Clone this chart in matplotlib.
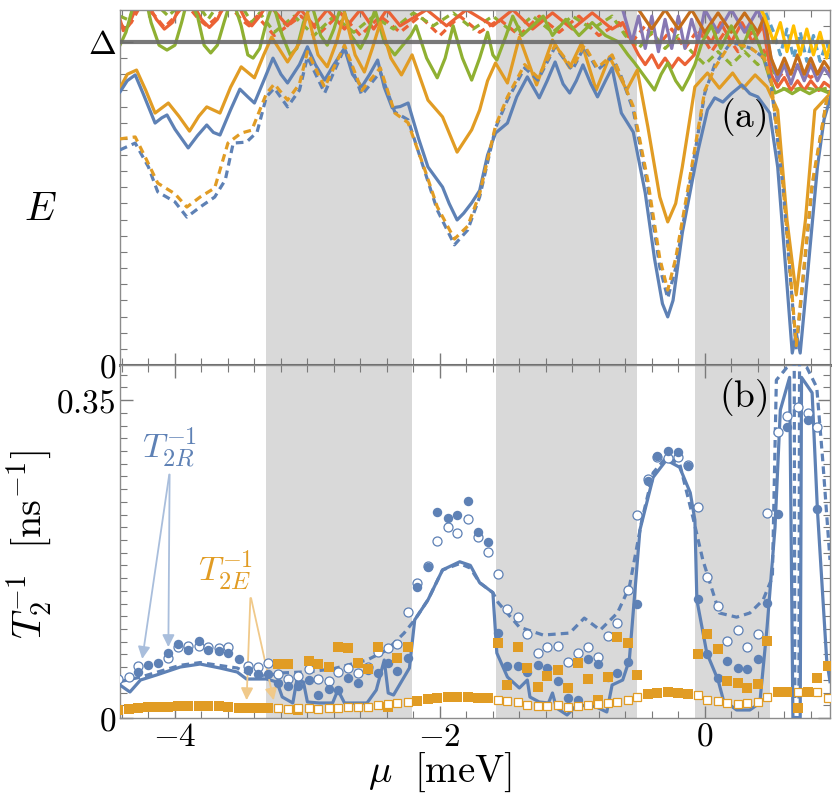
import numpy as np
import matplotlib
matplotlib.use('Agg')
import matplotlib.pyplot as plt
from matplotlib.ticker import MultipleLocator, FixedLocator, FixedFormatter

plt.rcParams['mathtext.fontset'] = 'cm'
plt.rcParams['font.family'] = 'DejaVu Serif'

BLUE = '#5e81b5'
ORANGE = '#e19c24'
GREEN = '#8fb032'
RED = '#eb6235'
PURPLE = '#8778b3'
BROWN = '#c56e1a'
LBLUE = '#5d9ec7'
YELLOW = '#ffbf00'

# shaded mu-intervals
shade_regions = [(-3.31, -2.21), (-1.58, -0.51), (-0.075, 0.49)]

# ===== panel (a): energies in units of Delta =====
mu_blue_sol = [-4.415, -4.36, -4.30, -4.24, -4.15, -4.10, -4.06, -4.00, -3.90, -3.83, -3.76, -3.71,
               -3.66, -3.58, -3.51, -3.45, -3.40, -3.33, -3.26, -3.20, -3.15, -3.06, -3.00, -2.94,
               -2.87, -2.80, -2.72, -2.66, -2.59, -2.53, -2.47, -2.42, -2.36, -2.30, -2.24, -2.16,
               -2.09, -1.98, -1.93, -1.87, -1.82, -1.76, -1.70, -1.64, -1.58, -1.49, -1.42, -1.34,
               -1.25, -1.19, -1.13, -1.07, -1.02, -0.97, -0.92, -0.86, -0.81, -0.75, -0.70, -0.63,
               -0.54, -0.45, -0.38, -0.32, -0.28, -0.24, -0.17, -0.05, 0.02, 0.075, 0.136, 0.20,
               0.28, 0.34, 0.40, 0.49, 0.55, 0.62, 0.66, 0.69, 0.72, 0.78, 0.85, 0.90, 0.95]
E_blue_sol = [0.845, 0.88, 0.898, 0.84, 0.749, 0.765, 0.774, 0.73, 0.672, 0.71, 0.743, 0.72,
              0.712, 0.79, 0.854, 0.83, 0.811, 0.88, 0.950, 0.90, 0.873, 0.93, 0.985, 0.93,
              0.882, 0.93, 0.981, 0.90, 0.861, 0.90, 0.944, 0.86, 0.796, 0.80, 0.811, 0.70,
              0.613, 0.551, 0.50, 0.449, 0.47, 0.502, 0.54, 0.65, 0.718, 0.749, 0.83, 0.892,
              0.827, 0.88, 0.938, 0.87, 0.842, 0.88, 0.929, 0.87, 0.830, 0.88, 0.920, 0.780,
              0.721, 0.533, 0.33, 0.19, 0.149, 0.20, 0.409, 0.666, 0.79, 0.827, 0.814, 0.84,
              0.867, 0.84, 0.830, 0.780, 0.613, 0.25, 0.037, 0.099, 0.037, 0.30, 0.613, 0.76, 0.83]

mu_orange_sol = [-4.415, -4.36, -4.29, -4.22, -4.15, -4.05, -3.97, -3.89, -3.82, -3.76, -3.66, -3.58,
                 -3.50, -3.40, -3.33, -3.27, -3.15, -3.06, -3.00, -2.92, -2.85, -2.78, -2.72, -2.64,
                 -2.57, -2.51, -2.45, -2.37, -2.29, -2.21, -2.09, -1.98, -1.87, -1.76, -1.70, -1.64,
                 -1.58, -1.49, -1.40, -1.27, -1.15, -1.02, -0.93, -0.82, -0.72, -0.59, -0.51, -0.43,
                 -0.34, -0.28, -0.22, -0.17, -0.075, 0.02, 0.11, 0.21, 0.29, 0.38, 0.47, 0.55,
                 0.62, 0.69, 0.76, 0.83, 0.95]
E_orange_sol = [0.857, 0.90, 0.913, 0.85, 0.780, 0.811, 0.77, 0.724, 0.77, 0.799, 0.780, 0.86,
                0.923, 0.889, 0.96, 1.015, 0.938, 0.997, 1.09, 0.96, 0.923, 1.00, 1.09, 0.96,
                0.907, 0.98, 1.06, 0.95, 0.898, 0.96, 0.820, 0.768, 0.659, 0.728, 0.789, 0.88,
                0.935, 0.873, 1.015, 0.867, 1.006, 0.920, 0.997, 0.851, 0.954, 0.851, 0.913, 0.737,
                0.52, 0.443, 0.50, 0.613, 0.861, 0.904, 0.857, 0.904, 0.857, 0.898, 0.861, 0.789,
                0.45, 0.217, 0.45, 0.789, 0.842]

mu_blue_dash = [-4.415, -4.30, -4.20, -4.13, -4.00, -3.91, -3.81, -3.70, -3.62, -3.56, -3.46, -3.38,
                -3.31, -3.25, -3.15, -3.06, -3.00, -2.87, -2.72, -2.59, -2.45, -2.34, -2.24, -2.11,
                -2.02, -1.89, -1.79, -1.70, -1.58, -1.49, -1.36, -1.26, -1.13, -1.00, -0.91, -0.81,
                -0.70, -0.63, -0.54, -0.43, -0.34, -0.28, -0.22, -0.13, 0.00, 0.075, 0.20, 0.35,
                0.45, 0.50, 0.59, 0.69, 0.81, 0.92, 0.95]
E_blue_dash = [0.666, 0.687, 0.613, 0.536, 0.505, 0.458, 0.489, 0.520, 0.573, 0.687, 0.690, 0.721,
               0.830, 0.857, 0.799, 0.851, 0.954, 0.842, 0.981, 0.836, 0.907, 0.783, 0.759, 0.594,
               0.480, 0.372, 0.418, 0.520, 0.734, 0.820, 0.920, 0.882, 0.985, 0.913, 0.985, 0.913,
               0.954, 0.892, 0.789, 0.551, 0.303, 0.207, 0.30, 0.520, 0.842, 0.93, 1.0, 0.98,
               0.95, 0.87, 0.551, 0.046, 0.551, 0.82, 0.84]

mu_orange_dash = [-4.415, -4.30, -4.22, -4.13, -4.00, -3.91, -3.81, -3.70, -3.60, -3.50, -3.42, -3.31,
                  -3.25, -3.15, -3.06, -3.00, -2.87, -2.72, -2.59, -2.45, -2.34, -2.24, -2.11, -2.02,
                  -1.89, -1.79, -1.70, -1.58, -1.49, -1.36, -1.26, -1.13, -1.00, -0.91, -0.81, -0.70,
                  -0.63, -0.54, -0.43, -0.34, -0.28, -0.22, -0.13, 0.00, 0.075, 0.20, 0.35, 0.45,
                  0.50, 0.59, 0.69, 0.81, 0.92, 0.95]
E_orange_dash = [0.70, 0.706, 0.64, 0.563, 0.53, 0.489, 0.52, 0.548, 0.687, 0.718, 0.727, 0.84,
                 0.87, 0.82, 0.87, 0.97, 0.86, 0.99, 0.85, 0.92, 0.78, 0.75, 0.60, 0.49,
                 0.39, 0.43, 0.53, 0.74, 0.83, 0.93, 0.89, 0.99, 0.92, 0.99, 0.92, 0.96,
                 0.89, 0.80, 0.57, 0.33, 0.232, 0.33, 0.54, 0.85, 0.92, 1.0, 0.98, 0.95,
                 0.88, 0.56, 0.06, 0.56, 0.82, 0.85]

mu_green_sol = [-4.415, -4.37, -4.31, -4.23, -4.18, -4.12, -4.06, -4.00, -3.95, -3.90, -3.83, -3.78,
                -3.73, -3.68, -3.63, -3.57, -3.50, -3.45, -3.41, -3.36, -3.31, -3.26, -3.19, -3.13,
                -3.08, -3.03, -2.97, -2.90, -2.85, -2.80, -2.74, -2.67, -2.60, -2.55, -2.49, -2.42,
                -2.34, -2.28, -2.22, -2.18, -2.10, -2.02, -1.96, -1.90, -1.83, -1.76, -1.70, -1.64,
                -1.60, -1.57, -1.50, -1.45, -1.38, -1.30, -1.22, -1.15, -1.05, -0.95, -0.85, -0.75,
                -0.65, -0.58, -0.53, -0.45, -0.38, -0.33, -0.28, -0.22, -0.17, -0.12, -0.075, -0.02,
                0.05, 0.12, 0.20, 0.28, 0.35, 0.42, 0.48, 0.53, 0.60, 0.66, 0.72, 0.79, 0.86, 0.95]
E_green_sol = [0.99, 1.03, 1.12, 1.15, 1.06, 0.99, 0.975, 0.99, 1.06, 1.14, 1.08, 0.99,
               0.966, 0.99, 1.06, 1.14, 1.05, 0.96, 0.95, 0.98, 1.06, 1.12, 1.02, 0.96,
               0.98, 1.06, 1.12, 1.02, 0.99, 1.04, 1.12, 1.02, 0.98, 1.02, 1.10, 1.00,
               0.96, 0.99, 1.02, 1.05, 0.95, 0.889, 0.95, 1.05, 0.95, 0.882, 0.95, 1.03,
               0.96, 0.944, 1.02, 1.08, 1.02, 1.05, 1.08, 1.02, 1.07, 1.02, 1.06, 1.02,
               1.00, 0.96, 0.935, 0.89, 0.851, 0.90, 0.935, 0.88, 0.851, 0.89, 0.93, 1.00,
               1.05, 0.98, 1.05, 0.98, 1.05, 0.98, 0.90, 0.842, 0.855, 0.84, 0.855, 0.84, 0.855, 0.84]

mu_green_dash = [-4.415, -4.36, -4.30, -4.20, -4.10, -4.05, -4.00, -3.90, -3.80, -3.75, -3.70, -3.58,
                 -3.48, -3.42, -3.36, -3.25, -3.10, -2.95, -2.80, -2.65, -2.50, -2.35, -2.20, -2.05,
                 -1.90, -1.75, -1.60, -1.45, -1.30, -1.15, -1.00, -0.85, -0.70, -0.60, -0.50, -0.40,
                 -0.30, -0.20, -0.10, 0.00, 0.10, 0.20, 0.30, 0.40, 0.48, 0.55, 0.65, 0.75, 0.85, 0.95]
E_green_dash = [1.08, 1.07, 1.10, 1.16, 1.10, 1.08, 1.10, 1.16, 1.10, 1.07, 1.10, 1.16,
                1.10, 1.06, 1.09, 1.03, 1.08, 1.02, 1.08, 1.03, 1.08, 1.04, 1.09, 1.05,
                1.09, 1.04, 1.08, 1.03, 1.08, 1.03, 1.08, 1.04, 1.08, 1.02, 0.98, 1.03,
                0.98, 1.02, 0.97, 0.93, 0.97, 0.93, 0.97, 0.93, 0.97, 0.86, 0.85, 0.86, 0.85, 0.86]

mu_red_sol = [-4.415, -4.39, -4.35, -4.30, -4.22, -4.14, -4.08, -4.02, -3.96, -3.88, -3.80, -3.74,
              -3.68, -3.62, -3.54, -3.47, -3.42, -3.36, -3.30, -3.15, -3.05, -2.95, -2.85, -2.72,
              -2.60, -2.50, -2.40, -2.30, -2.10, -1.95, -1.80, -1.60, -1.45, -1.30, -1.15, -1.00,
              -0.85, -0.70, -0.62, -0.55, -0.50, -0.45, -0.40, -0.35, -0.30, -0.25, -0.20, -0.15,
              -0.08, -0.03, 0.05, 0.12, 0.20, 0.28, 0.36, 0.44, 0.50, 0.55, 0.60, 0.65,
              0.70, 0.75, 0.80, 0.86, 0.90, 0.95]
E_red_sol = [1.07, 1.035, 1.05, 1.10, 1.13, 1.07, 1.04, 1.06, 1.11, 1.13, 1.07, 1.045,
             1.07, 1.12, 1.13, 1.07, 1.05, 1.08, 1.12, 1.05, 1.10, 1.05, 1.10, 1.04,
             1.10, 1.04, 1.10, 1.05, 1.10, 1.05, 1.10, 1.05, 1.10, 1.04, 1.09, 1.04,
             1.09, 1.04, 1.06, 1.00, 0.96, 0.93, 0.96, 0.92, 0.95, 0.92, 0.95, 0.93,
             0.96, 1.04, 1.00, 1.06, 1.00, 1.06, 1.00, 1.05, 0.90, 0.86, 0.89, 0.85,
             0.88, 0.85, 0.88, 0.85, 0.875, 0.86]

mu_red_dash = [-4.415, -4.38, -4.33, -4.25, -4.15, -4.08, -4.02, -3.92, -3.82, -3.76, -3.70, -3.60,
               -3.50, -3.44, -3.38, -3.25, -3.05, -2.90, -2.75, -2.60, -2.45, -2.30, -2.15, -2.00,
               -1.85, -1.70, -1.55, -1.40, -1.25, -1.10, -0.95, -0.80, -0.65, -0.55, -0.45, -0.35,
               -0.25, -0.15, -0.05, 0.05, 0.15, 0.25, 0.35, 0.45, 0.52, 0.60, 0.70, 0.80, 0.90, 0.95]
E_red_dash = [1.06, 1.04, 1.06, 1.12, 1.08, 1.045, 1.07, 1.12, 1.07, 1.05, 1.07, 1.12,
              1.07, 1.05, 1.08, 1.02, 1.08, 1.03, 1.09, 1.02, 1.08, 1.03, 1.08, 1.02,
              1.08, 1.03, 1.07, 1.02, 1.08, 1.03, 1.08, 1.02, 1.06, 1.00, 1.05, 0.99,
              1.04, 0.98, 1.04, 0.97, 1.03, 0.97, 1.03, 0.97, 0.92, 0.89, 0.92, 0.89, 0.92, 0.90]

mu_purple = [-0.62, -0.55, -0.50, -0.45, -0.40, -0.35, -0.30, -0.25, -0.20, -0.15, -0.10, -0.05,
             0.00, 0.10, 0.20, 0.30, 0.40, 0.45, 0.50, 0.55, 0.60, 0.65, 0.70, 0.75, 0.80, 0.85, 0.90, 0.95]
E_purple = [1.10, 1.00, 1.08, 0.98, 1.08, 0.97, 1.07, 0.98, 1.08, 0.98, 1.07, 1.00,
            1.10, 1.03, 1.10, 1.03, 1.10, 1.05, 0.95, 0.88, 0.93, 0.87, 0.93, 0.88, 0.93, 0.88, 0.92, 0.89]

mu_brown = [-0.50, -0.40, -0.30, -0.20, -0.10, 0.00, 0.10, 0.20, 0.30, 0.40, 0.45, 0.50,
            0.55, 0.60, 0.65, 0.70, 0.75, 0.80, 0.85, 0.90, 0.95]
E_brown = [1.10, 1.04, 1.10, 1.04, 1.10, 1.03, 1.09, 1.03, 1.09, 1.03, 1.08, 0.95,
           0.90, 0.95, 0.90, 0.96, 0.90, 0.95, 0.90, 0.94, 0.91]

mu_yellow = [0.40, 0.45, 0.52, 0.57, 0.62, 0.67, 0.72, 0.77, 0.82, 0.87, 0.92, 0.95]
E_yellow = [1.12, 1.08, 1.00, 1.06, 0.97, 1.05, 0.96, 1.04, 0.96, 1.03, 0.95, 1.00]

mu_lblue = [0.40, 0.45, 0.52, 0.57, 0.62, 0.67, 0.72, 0.77, 0.82, 0.87, 0.92, 0.95]
E_lblue = [1.12, 1.10, 1.03, 0.96, 1.04, 0.95, 1.03, 0.94, 1.02, 0.94, 1.00, 0.95]

# ===== panel (b): dephasing rates [1/ns] =====
mu_line_sol = [-4.415, -4.34, -4.26, -4.14, -3.96, -3.81, -3.66, -3.53, -3.46, -3.31, -3.23, -3.19,
               -3.11, -3.08, -3.03, -3.00, -2.91, -2.81, -2.77, -2.72, -2.55, -2.48, -2.42, -2.39,
               -2.35, -2.23, -2.19, -2.09, -1.98, -1.85, -1.77, -1.70, -1.60, -1.57, -1.49, -1.40,
               -1.34, -1.32, -1.25, -1.18, -1.15, -1.12, -1.04, -0.98, -0.89, -0.82, -0.74, -0.70,
               -0.62, -0.57, -0.49, -0.39, -0.29, -0.19, -0.11, -0.075, -0.06, 0.015, 0.10, 0.14,
               0.24, 0.34, 0.415, 0.47, 0.53, 0.57, 0.64, 0.665, 0.72, 0.73, 0.81, 0.85, 0.92, 0.945]
T_line_sol = [0.0363, 0.0286, 0.0418, 0.0473, 0.0561, 0.0594, 0.055, 0.0506, 0.0429, 0.0429, 0.0396, 0.0231,
              0.0165, 0.0418, 0.0396, 0.0176, 0.0165, 0.0165, 0.0308, 0.0165, 0.0165, 0.0308, 0.0638, 0.0275,
              0.0253, 0.055, 0.108, 0.130, 0.163, 0.172, 0.168, 0.149, 0.138, 0.0715, 0.0451, 0.033,
              0.0418, 0.0231, 0.0176, 0.0165, 0.0275, 0.011, 0.0033, 0.0121, 0.0143, 0.0121, 0.0066, 0.0363,
              0.0418, 0.0638, 0.207, 0.265, 0.284, 0.276, 0.248, 0.218, 0.130, 0.0715, 0.0418, 0.0198,
              0.0088, 0.0088, 0.0165, 0.100, 0.210, 0.339, 0.375, 0.0, 0.0, 0.375, 0.358, 0.229, 0.0638, 0.04]

mu_line_dash = [-4.415, -4.26, -3.96, -3.81, -3.53, -3.43, -3.31, -3.21, -2.98, -2.81, -2.55, -2.40,
                -2.27, -2.19, -2.09, -1.98, -1.85, -1.77, -1.70, -1.60, -1.56, -1.40, -1.22, -1.02,
                -0.91, -0.79, -0.66, -0.57, -0.475, -0.39, -0.29, -0.19, -0.09, -0.015, 0.11, 0.24,
                0.34, 0.44, 0.51, 0.54, 0.62, 0.675, 0.68, 0.71, 0.715, 0.77, 0.845, 0.89, 0.945]
T_line_dash = [0.040, 0.045, 0.058, 0.061, 0.055, 0.048, 0.046, 0.0495, 0.051, 0.054, 0.0638, 0.0748,
               0.0935, 0.108, 0.130, 0.163, 0.170, 0.165, 0.149, 0.138, 0.127, 0.100, 0.0913, 0.0935,
               0.110, 0.0968, 0.1156, 0.144, 0.218, 0.270, 0.287, 0.280, 0.221, 0.174, 0.1156, 0.111,
               0.1156, 0.130, 0.155, 0.372, 0.386, 0.392, 0.0, 0.0, 0.392, 0.386, 0.364, 0.284, 0.174]

# sampling grid of the scattered rates (index -> mu)
mu_grid = [-4.43, -4.35, -4.28, -4.20, -4.13, -4.05, -3.98, -3.90, -3.82, -3.75, -3.67, -3.60,
           -3.52, -3.45, -3.37, -3.30, -3.22, -3.15, -3.07, -2.99, -2.92, -2.84, -2.77, -2.69,
           -2.62, -2.54, -2.47, -2.39, -2.32, -2.24, -2.17, -2.09, -2.02, -1.94, -1.87, -1.79,
           -1.71, -1.64, -1.56, -1.49, -1.41, -1.34, -1.26, -1.19, -1.11, -1.03, -0.96, -0.88,
           -0.81, -0.73, -0.66, -0.58, -0.51, -0.43, -0.36, -0.28, -0.20, -0.13, -0.05, 0.02,
           0.10, 0.17, 0.25, 0.32, 0.40, 0.47, 0.55, 0.62, 0.70, 0.78, 0.85, 0.93]

idx_R_full = [2, 3, 4, 5, 6, 7, 8, 9, 10, 11, 12, 13, 14, 15, 16, 17, 18, 19, 20, 21, 22, 23, 24, 25,
              26, 27, 28, 29, 30, 31, 32, 33, 34, 35, 36, 37, 38, 39, 40, 41, 42, 43, 44, 45, 46, 47,
              48, 49, 50, 51, 52, 53, 54, 55, 56, 57, 58, 59, 60, 61, 62, 63, 64, 65, 66, 67, 69, 70]
T_R_full = [0.0506, 0.0583, 0.0605, 0.0715, 0.0814, 0.0748, 0.0847, 0.0748, 0.0737, 0.0715, 0.0649, 0.0528,
            0.0484, 0.0484, 0.0385, 0.0352, 0.0352, 0.0418, 0.0253, 0.0319, 0.0308, 0.044, 0.0385, 0.0528,
            0.0495, 0.0605, 0.0517, 0.066, 0.144, 0.166, 0.227, 0.220, 0.223, 0.239, 0.205, 0.194,
            0.0935, 0.0572, 0.0572, 0.0506, 0.0583, 0.055, 0.0407, 0.022, 0.0198, 0.0649, 0.0594, 0.045,
            0.0495, 0.0616, 0.1255, 0.261, 0.288, 0.294, 0.293, 0.277, 0.131, 0.0704, 0.044, 0.0627,
            0.055, 0.0539, 0.0649, 0.1266, 0.2245, 0.320, 0.328, 0.230]

idx_R_open = [0, 1, 2, 5, 6, 7, 8, 9, 10, 11, 13, 14, 15, 16, 17, 18, 19, 20, 21, 22, 23, 24, 25, 26,
              27, 28, 29, 30, 31, 32, 33, 34, 35, 36, 37, 38, 39, 40, 41, 42, 43, 44, 45, 46, 47, 48,
              49, 50, 51, 52, 53, 54, 55, 56, 57, 58, 59, 60, 61, 62, 63, 64, 65, 66, 67, 68, 69, 70]
T_R_open = [0.0429, 0.0451, 0.0572, 0.066, 0.078, 0.079, 0.079, 0.078, 0.077, 0.078, 0.0572, 0.0561,
            0.0605, 0.0484, 0.0429, 0.0462, 0.0539, 0.0429, 0.0407, 0.0506, 0.055, 0.0495, 0.0561, 0.0726,
            0.077, 0.0814, 0.1167, 0.1486, 0.167, 0.195, 0.210, 0.204, 0.219, 0.199, 0.183, 0.158,
            0.120, 0.111, 0.0924, 0.0715, 0.078, 0.079, 0.0616, 0.0715, 0.078, 0.067, 0.090, 0.1046,
            0.141, 0.223, 0.263, 0.287, 0.286, 0.287, 0.278, 0.232, 0.155, 0.123, 0.0847, 0.0968,
            0.078, 0.0924, 0.2256, 0.315, 0.332, 0.342, 0.336, 0.320]

T_E_full = [0.0088, 0.0099, 0.011, 0.012, 0.0121, 0.0121, 0.013, 0.0135, 0.0135, 0.0135, 0.013, 0.0121,
            0.0114, 0.011, 0.011, 0.011, 0.0594, 0.0594, 0.0088, 0.0627, 0.0594, 0.0561, 0.078, 0.077,
            0.0605, 0.0539, 0.078, 0.0121, 0.066, 0.078, 0.0187, 0.0209, 0.022, 0.0231, 0.0231, 0.0231,
            0.022, 0.022, 0.0825, 0.0363, 0.078, 0.055, 0.0341, 0.0462, 0.0528, 0.033, 0.0605, 0.0429,
            0.0198, 0.0451, 0.0891, 0.0825, 0.0473, 0.0264, 0.0275, 0.0286, 0.0275, 0.0264, 0.0704, 0.0924,
            0.0759, 0.0407, 0.0385, 0.033, 0.0374, 0.0847, 0.0286, 0.0286, 0.011, 0.0286, 0.044, 0.0572]

idx_E_open = [16, 17, 18, 19, 20, 21, 22, 23, 24, 25, 26, 27, 28, 29, 38, 39, 40, 41, 42, 43, 44, 45,
              46, 47, 48, 49, 50, 51, 52, 58, 59, 60, 61, 62, 63, 64, 65, 68, 70, 71]
T_E_open = [0.011, 0.0099, 0.0105, 0.011, 0.0104, 0.011, 0.0114, 0.0121, 0.0121, 0.0121, 0.0143, 0.015,
            0.0165, 0.0176, 0.0198, 0.0187, 0.0176, 0.0143, 0.0132, 0.0132, 0.0143, 0.0121, 0.013, 0.0143,
            0.0154, 0.0165, 0.0176, 0.0198, 0.0231, 0.025, 0.0198, 0.0187, 0.0165, 0.0154, 0.0165, 0.0176,
            0.0231, 0.0286, 0.0286, 0.022]

fig = plt.figure(figsize=(8.32, 7.93), dpi=100)
ax1 = fig.add_axes([0.1442, 0.5397, 0.8534, 0.4477])
ax2 = fig.add_axes([0.1442, 0.0946, 0.8534, 0.4451])

xlim = (-4.415, 0.945)
lw = 2.3
dash = [2.4, 1.6]

for ax in (ax1, ax2):
    for a, b in shade_regions:
        ax.axvspan(a, b, color='#d9d9d9', lw=0, zorder=0)
    ax.set_xlim(*xlim)
    for s in ax.spines.values():
        s.set_color('#8c8c8c')
        s.set_linewidth(1.0)
    ax.xaxis.set_major_locator(FixedLocator([-4, -2, 0]))
    ax.xaxis.set_minor_locator(MultipleLocator(0.2))
    ax.tick_params(which='both', direction='in', top=True, right=True, colors='#7a7a7a',
                   labelcolor='black', labelsize=24)
    ax.tick_params(which='major', length=9, width=1.0)
    ax.tick_params(which='minor', length=5, width=0.8)

# ---- panel (a)
for m, e, c in [(mu_red_dash, E_red_dash, RED), (mu_green_dash, E_green_dash, GREEN),
                (mu_lblue, E_lblue, LBLUE)]:
    ax1.plot(m, e, color=c, lw=lw, dashes=dash, zorder=2)
for m, e, c in [(mu_red_sol, E_red_sol, RED), (mu_purple, E_purple, PURPLE),
                (mu_brown, E_brown, BROWN), (mu_yellow, E_yellow, YELLOW),
                (mu_green_sol, E_green_sol, GREEN)]:
    ax1.plot(m, e, color=c, lw=lw, zorder=2)
ax1.plot(mu_orange_sol, E_orange_sol, color=ORANGE, lw=lw, zorder=3)
ax1.plot(mu_blue_sol, E_blue_sol, color=BLUE, lw=lw, zorder=3)
ax1.plot(mu_blue_dash, E_blue_dash, color=BLUE, lw=lw, dashes=dash, zorder=3)
ax1.plot(mu_orange_dash, E_orange_dash, color=ORANGE, lw=lw, dashes=dash, zorder=3)

ax1.axhline(1.0, color='#6b6b6b', lw=3.0, alpha=0.9, zorder=5)
ax1.axhline(0.0, color='#6b6b6b', lw=2.2, zorder=5, clip_on=False)
ax1.set_ylim(0, 1.099)
ax1.yaxis.set_major_locator(FixedLocator([0, 1]))
ax1.yaxis.set_major_formatter(FixedFormatter([r'$0$', r'$\Delta$']))
ax1.yaxis.set_minor_locator(MultipleLocator(0.05))
ax1.tick_params(axis='x', labelbottom=False)
ax1.tick_params(axis='y', pad=3)
ax1.text(0.29, 0.765, r'$(\mathrm{a})$', fontsize=27, ha='center', va='center', zorder=6)

# ---- panel (b)
ax2.plot(mu_line_dash, T_line_dash, color=BLUE, lw=lw, dashes=dash, zorder=3)
ax2.plot(mu_line_sol, T_line_sol, color=BLUE, lw=lw, zorder=3)

mu_arr = np.array(mu_grid)
ax2.plot(mu_arr[idx_R_open], T_R_open, 'o', ms=6.5, mfc='white', mec=BLUE, mew=0.9, zorder=4)
ax2.plot(mu_arr[idx_R_full], T_R_full, 'o', ms=6.8, color=BLUE, mew=0, zorder=4)
ax2.plot(mu_arr, T_E_full, 's', ms=6.8, color=ORANGE, mew=0, zorder=4)
ax2.plot(mu_arr[idx_E_open], T_E_open, 's', ms=6.3, mfc='white', mec=ORANGE, mew=0.9, zorder=4)

ax2.set_ylim(0, 0.3886)
ax2.yaxis.set_major_locator(FixedLocator([0, 0.35]))
ax2.yaxis.set_major_formatter(FixedFormatter([r'$0$', r'$0.35$']))
ax2.yaxis.set_minor_locator(MultipleLocator(0.014))
ax2.xaxis.set_major_formatter(FixedFormatter([r'$-4$', r'$-2$', r'$0$']))
ax2.tick_params(axis='x', pad=2)
ax2.tick_params(axis='y', pad=3)
ax2.text(0.29, 0.353, r'$(\mathrm{b})$', fontsize=27, ha='center', va='center', zorder=6)

# annotations
ax2.text(-4.04, 0.298, r'$T_{2R}^{-1}$', color=BLUE, fontsize=25, ha='center', va='center')
ax2.annotate('', xy=(-4.25, 0.062), xytext=(-4.04, 0.271),
             arrowprops=dict(arrowstyle='-|>', color='#a9bedc', lw=1.3, mutation_scale=18))
ax2.annotate('', xy=(-4.05, 0.075), xytext=(-4.04, 0.271),
             arrowprops=dict(arrowstyle='-|>', color='#a9bedc', lw=1.3, mutation_scale=18))
ax2.text(-3.62, 0.163, r'$T_{2E}^{-1}$', color=ORANGE, fontsize=25, ha='center', va='center')
ax2.annotate('', xy=(-3.46, 0.0165), xytext=(-3.43, 0.135),
             arrowprops=dict(arrowstyle='-|>', color='#f0c98a', lw=1.3, mutation_scale=18))
ax2.annotate('', xy=(-3.25, 0.0165), xytext=(-3.43, 0.135),
             arrowprops=dict(arrowstyle='-|>', color='#f0c98a', lw=1.3, mutation_scale=18))

fig.text(0.048, 1 - 210 / 793, r'$E$', fontsize=29, ha='center', va='center')
fig.text(0.036, 1 - 545 / 793, r'$T_2^{-1}\ \ [\mathrm{ns}^{-1}]$', fontsize=29,
         ha='center', va='center', rotation=90)
fig.text(440 / 832, 1 - 772 / 793, r'$\mu\ \ [\mathrm{meV}]$', fontsize=28, ha='center', va='center')

fig.savefig('out.png', dpi=100)
